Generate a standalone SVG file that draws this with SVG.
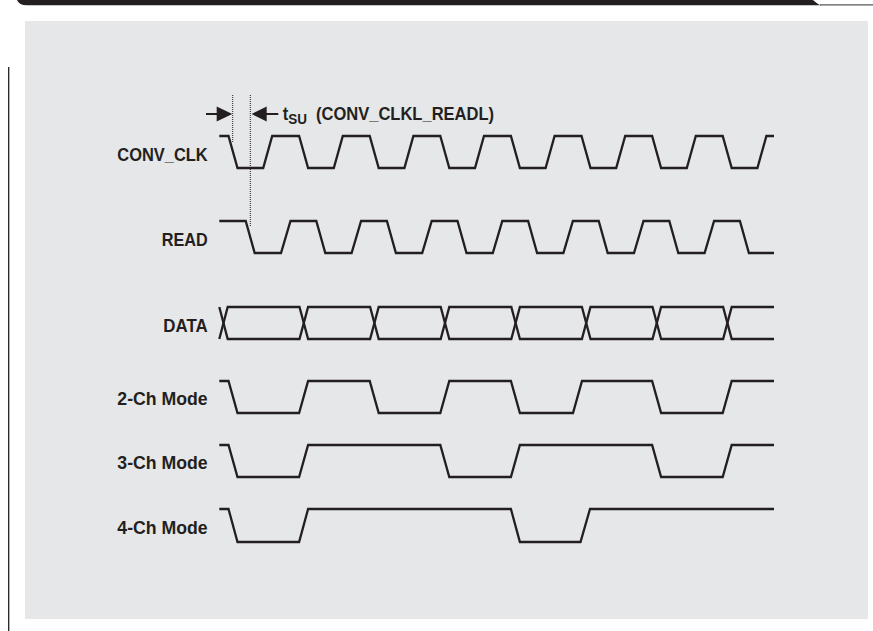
<svg xmlns="http://www.w3.org/2000/svg" width="873" height="631" viewBox="0 0 873 631">
<style>
.bg{fill:#ffffff}
.panel{fill:#e6e7e8}
.wave{fill:none;stroke:#231f20;stroke-width:2.3;stroke-linejoin:miter}
.dot{fill:none;stroke:#231f20;stroke-width:1;stroke-dasharray:1 1}
.lbl{font-family:"Liberation Sans",Arial,sans-serif;font-weight:bold;font-size:19px;fill:#231f20}
.arr{fill:#231f20}
.arrl{stroke:#231f20;stroke-width:2;fill:none}
</style>
<rect class="bg" x="0" y="0" width="873" height="631"/>
<g id="frame">
<path d="M17,0 H812 C815,0 817,5.3 822,5.3 H27 Q19,5.3 17,0 Z" fill="#231f20"/>
<path d="M820,4.8 H873" stroke="#58595b" stroke-width="1.2" fill="none"/>
<line x1="8.7" y1="67" x2="8.7" y2="631" stroke="#231f20" stroke-width="1.3"/>
<rect class="panel" x="25" y="21" width="843" height="598"/>
</g>
<g id="tsu">
<line class="dot" x1="232.7" y1="95" x2="232.7" y2="142"/>
<line class="dot" x1="250.3" y1="95" x2="250.3" y2="227"/>
<line class="arrl" x1="206" y1="114" x2="218" y2="114"/>
<polygon class="arr" points="216.7,106.5 232.3,114 216.7,121.5"/>
<polygon class="arr" points="251.7,114 266.7,106.5 266.7,121.5"/>
<line class="arrl" x1="265" y1="114" x2="278.3" y2="114"/>
<text class="lbl" transform="translate(282.7 120) scale(0.87 1)"><tspan x="0" y="0">t</tspan><tspan x="6.4" y="3.5" font-size="15.5">SU</tspan><tspan x="33" y="0"> (CONV_CLKL_READL)</tspan></text>
</g>
<g id="conv_clk">
<text class="lbl" x="117.3" y="161" textLength="90.4" lengthAdjust="spacingAndGlyphs">CONV_CLK</text>
<path class="wave" d="M219.3,136 H228.5 L237.5,168 H263.2 L272.2,136 H299.1 L308.1,168 H333.8 L342.8,136 H369.7 L378.7,168 H404.4 L413.4,136 H440.3 L449.3,168 H475 L484,136 H510.9 L519.9,168 H545.6 L554.6,136 H581.5 L590.5,168 H616.2 L625.2,136 H652.1 L661.1,168 H686.8 L695.8,136 H722.7 L731.7,168 H757.4 L766.4,136 H774"/>
</g>
<g id="read">
<text class="lbl" x="161.7" y="246" textLength="46" lengthAdjust="spacingAndGlyphs">READ</text>
<path class="wave" d="M219.3,221 H245.7 L254.7,253 H281 L290.5,221 H316.3 L325.3,253 H351.6 L361.1,221 H386.9 L395.9,253 H422.2 L431.7,221 H457.5 L466.5,253 H492.8 L502.3,221 H528.1 L537.1,253 H563.4 L572.9,221 H598.7 L607.7,253 H634 L643.5,221 H669.3 L678.3,253 H704.6 L714.1,221 H739.9 L748.9,253 H774"/>
</g>
<g id="data">
<text class="lbl" x="163.3" y="332" textLength="44.4" lengthAdjust="spacingAndGlyphs">DATA</text>
<path class="wave" d="M219.3,339 L227.7,307 H299.5 L308.1,339 H370.1 L378.7,307 H440.7 L449.3,339 H511.3 L519.9,307 H581.9 L590.5,339 H652.5 L661.1,307 H723.1 L731.7,339 H774"/>
<path class="wave" d="M219.3,307 L227.7,339 H299.5 L308.1,307 H370.1 L378.7,339 H440.7 L449.3,307 H511.3 L519.9,339 H581.9 L590.5,307 H652.5 L661.1,339 H723.1 L731.7,307 H774"/>
</g>
<g id="mode2">
<text class="lbl" x="117.3" y="405" textLength="90.4" lengthAdjust="spacingAndGlyphs">2-Ch Mode</text>
<path class="wave" d="M219.3,381 H228.5 L237.5,413 H299.1 L308.1,381 H369.7 L378.7,413 H440.3 L449.3,381 H510.9 L519.9,413 H573 L582,381 H652.1 L661.1,413 H722.7 L731.7,381 H774"/>
</g>
<g id="mode3">
<text class="lbl" x="117.3" y="469.3" textLength="90.4" lengthAdjust="spacingAndGlyphs">3-Ch Mode</text>
<path class="wave" d="M219.3,445 H228.5 L237.5,477 H299.1 L308.1,445 H440.3 L449.3,477 H510.9 L519.9,445 H652.1 L661.1,477 H722.7 L731.7,445 H774"/>
</g>
<g id="mode4">
<text class="lbl" x="117.3" y="533.5" textLength="90.4" lengthAdjust="spacingAndGlyphs">4-Ch Mode</text>
<path class="wave" d="M219.3,509 H228.5 L237.5,542 H299.1 L308.1,509 H510.9 L519.9,542 H580.5 L590,509 H774"/>
</g>
</svg>
